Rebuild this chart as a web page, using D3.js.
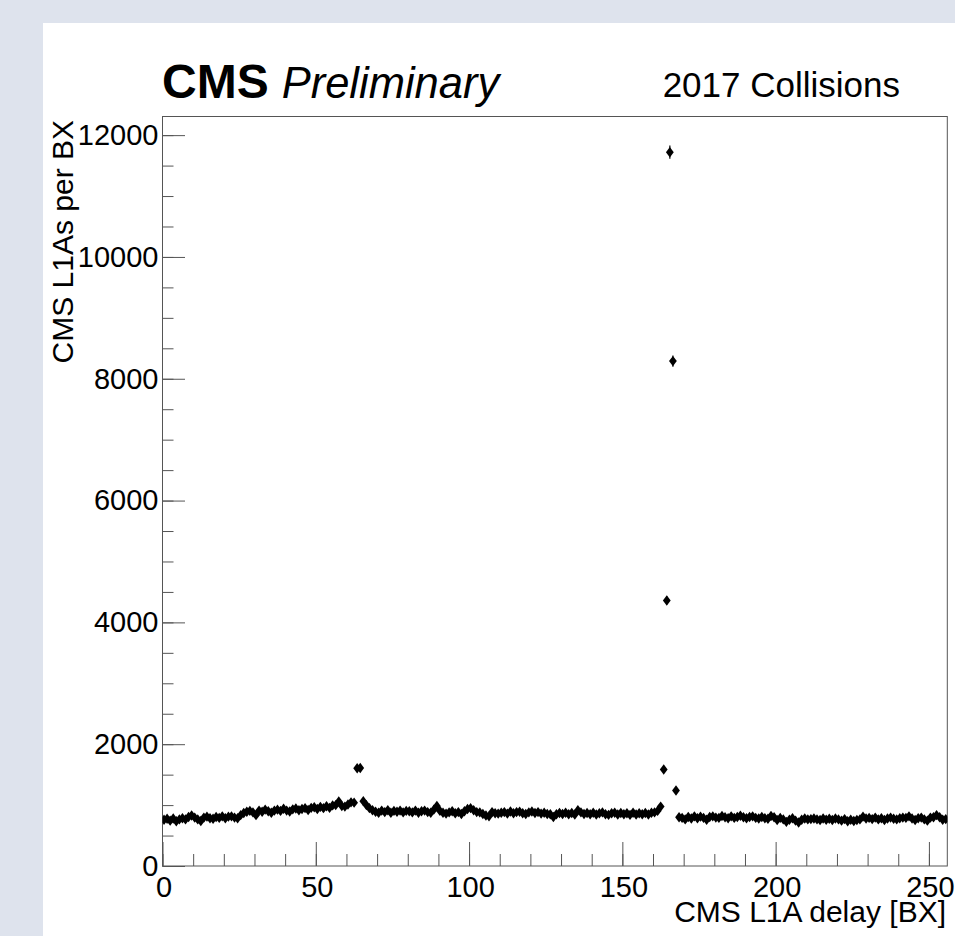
<!DOCTYPE html>
<html>
<head>
<meta charset="utf-8">
<script src="https://cdn.jsdelivr.net/npm/d3@7"></script>
<style>
  html, body { margin: 0; padding: 0; background: #dee3ed; }
  svg { display: block; }
  text { font-family: "Liberation Sans", Arial, Helvetica, sans-serif; fill: #000; }
</style>
</head>
<body>
<svg id="chart" width="955" height="936"></svg>
<script>
// ---- data ----
const xDomain = [0, 256];
const yDomain = [0, 12306];
const xTickLabels = [0, 50, 100, 150, 200, 250];
const xMinorTicks = d3.range(0, 257, 10);
const yTickLabels = [0, 2000, 4000, 6000, 8000, 10000, 12000];
const yMinorTicks = d3.range(0, 12001, 500);

// L1A counts per BX bin (bins 0..255, centred at i+0.5)
const counts = [
  760, 775, 745, 780, 735, 765, 785, 765, 805, 830,
  795, 765, 740, 795, 810, 785, 775, 805, 790, 815,
  785, 810, 815, 795, 785, 835, 870, 890, 905, 880,
  835, 910, 890, 925, 900, 875, 910, 925, 905, 940,
  910, 895, 930, 945, 915, 935, 950, 920, 955, 965,
  935, 970, 950, 980, 955, 995, 1000, 1060, 985, 975,
  1010, 1045, 1040, 1605, 1610, 1065, 1000, 950, 915, 890,
  875, 910, 885, 915, 875, 905, 890, 910, 880, 905,
  900, 880, 910, 875, 900, 910, 885, 875, 925, 985,
  905, 875, 860, 880, 900, 865, 885, 855, 900, 935,
  950, 915, 885, 880, 855, 830, 815, 885, 865, 860,
  875, 885, 860, 895, 865, 885, 890, 865, 855, 880,
  895, 870, 885, 860, 875, 855, 850, 805, 850, 870,
  855, 875, 850, 870, 845, 915, 880, 855, 870, 850,
  875, 845, 865, 880, 850, 840, 865, 875, 845, 870,
  850, 865, 840, 875, 845, 865, 850, 870, 845, 875,
  880, 905, 975, 1585, 4360, 11720, 8290, 1240, 800, 790,
  765, 805, 780, 815, 785, 810, 790, 760, 805, 815,
  795, 790, 820, 800, 785, 815, 790, 805, 825, 800,
  785, 805, 815, 790, 780, 805, 785, 775, 820, 800,
  755, 790, 765, 725, 760, 785, 745, 715, 760, 780,
  765, 770, 780, 765, 755, 780, 760, 775, 755, 780,
  765, 745, 770, 735, 760, 740, 755, 765, 810, 780,
  790, 770, 795, 765, 785, 755, 780, 795, 775, 765,
  785, 795, 790, 815, 780, 755, 785, 795, 765, 745,
  795, 800, 835, 800, 760, 770
];
const bins = counts.map((c, i) => ({ x: i + 0.5, y: c, err: Math.sqrt(c) }));

// ---- layout ----
const svg = d3.select("#chart");
const frame = { left: 162.5, top: 116.5, right: 947.3, bottom: 866 };

svg.append("rect").attr("x", 43).attr("y", 23).attr("width", 912).attr("height", 913).attr("fill", "#fff");

const x = d3.scaleLinear().domain(xDomain).range([frame.left, frame.right]);
const y = d3.scaleLinear().domain(yDomain).range([frame.bottom, frame.top]);

const axisColor = "#555";

// minor ticks
svg.append("g")
  .attr("transform", `translate(0,${frame.bottom})`)
  .call(d3.axisBottom(x).tickValues(xMinorTicks).tickSize(-12).tickFormat(""))
  .call(g => g.select(".domain").remove())
  .call(g => g.selectAll("line").attr("stroke", axisColor));
svg.append("g")
  .attr("transform", `translate(${frame.left},0)`)
  .call(d3.axisLeft(y).tickValues(yMinorTicks).tickSize(-11).tickFormat(""))
  .call(g => g.select(".domain").remove())
  .call(g => g.selectAll("line").attr("stroke", axisColor));

// major ticks + labels
const xAxis = svg.append("g")
  .attr("transform", `translate(0,${frame.bottom})`)
  .call(d3.axisBottom(x).tickValues(xTickLabels).tickSize(-24).tickPadding(10).tickFormat(d3.format("d")));
xAxis.select(".domain").remove();
xAxis.selectAll("line").attr("stroke", axisColor);
xAxis.selectAll("text").attr("font-size", 29).attr("dy", "0.71em").attr("y", 10).attr("x", 1)
  .style("font-family", '"Liberation Sans", Arial, sans-serif').attr("fill", "#000");

const yAxis = svg.append("g")
  .attr("transform", `translate(${frame.left},0)`)
  .call(d3.axisLeft(y).tickValues(yTickLabels).tickSize(-22.5).tickPadding(4).tickFormat(d3.format("d")));
yAxis.select(".domain").remove();
yAxis.selectAll("line").attr("stroke", axisColor);
yAxis.selectAll("text").attr("font-size", 29).attr("x", -4)
  .style("font-family", '"Liberation Sans", Arial, sans-serif').attr("fill", "#000");

// frame
svg.append("rect")
  .attr("x", frame.left).attr("y", frame.top)
  .attr("width", frame.right - frame.left).attr("height", frame.bottom - frame.top)
  .attr("fill", "none").attr("stroke", axisColor).attr("stroke-width", 1);

// data
svg.append("clipPath").attr("id", "clip").append("rect")
  .attr("x", frame.left).attr("y", frame.top)
  .attr("width", frame.right - frame.left).attr("height", frame.bottom - frame.top);
const pts = svg.append("g").attr("clip-path", "url(#clip)");
pts.selectAll("line.err").data(bins).join("line")
  .attr("class", "err")
  .attr("x1", d => x(d.x)).attr("x2", d => x(d.x))
  .attr("y1", d => y(d.y - d.err)).attr("y2", d => y(d.y + d.err))
  .attr("stroke", "#000").attr("stroke-width", 1.2);
const diamond = "M0,-5.2L3.9,0L0,5.2L-3.9,0Z";
pts.selectAll("path.m").data(bins).join("path")
  .attr("class", "m")
  .attr("d", diamond)
  .attr("transform", d => `translate(${x(d.x)},${y(d.y)})`)
  .attr("fill", "#000");

// titles
const t = svg.append("text").attr("x", 162).attr("y", 98);
t.append("tspan").attr("font-size", 48).attr("font-weight", "bold").text("CMS");
t.append("tspan").attr("font-size", 43.5).attr("font-style", "italic").attr("dx", 13).text("Preliminary");

svg.append("text").attr("x", 900).attr("y", 97).attr("text-anchor", "end")
  .attr("font-size", 35).text("2017 Collisions");

svg.append("text").attr("x", 946).attr("y", 922).attr("text-anchor", "end")
  .attr("font-size", 30).text("CMS L1A delay [BX]");

svg.append("text").attr("transform", "translate(73,120) rotate(-90)").attr("text-anchor", "end")
  .attr("font-size", 30).text("CMS L1As per BX");
</script>
</body>
</html>
